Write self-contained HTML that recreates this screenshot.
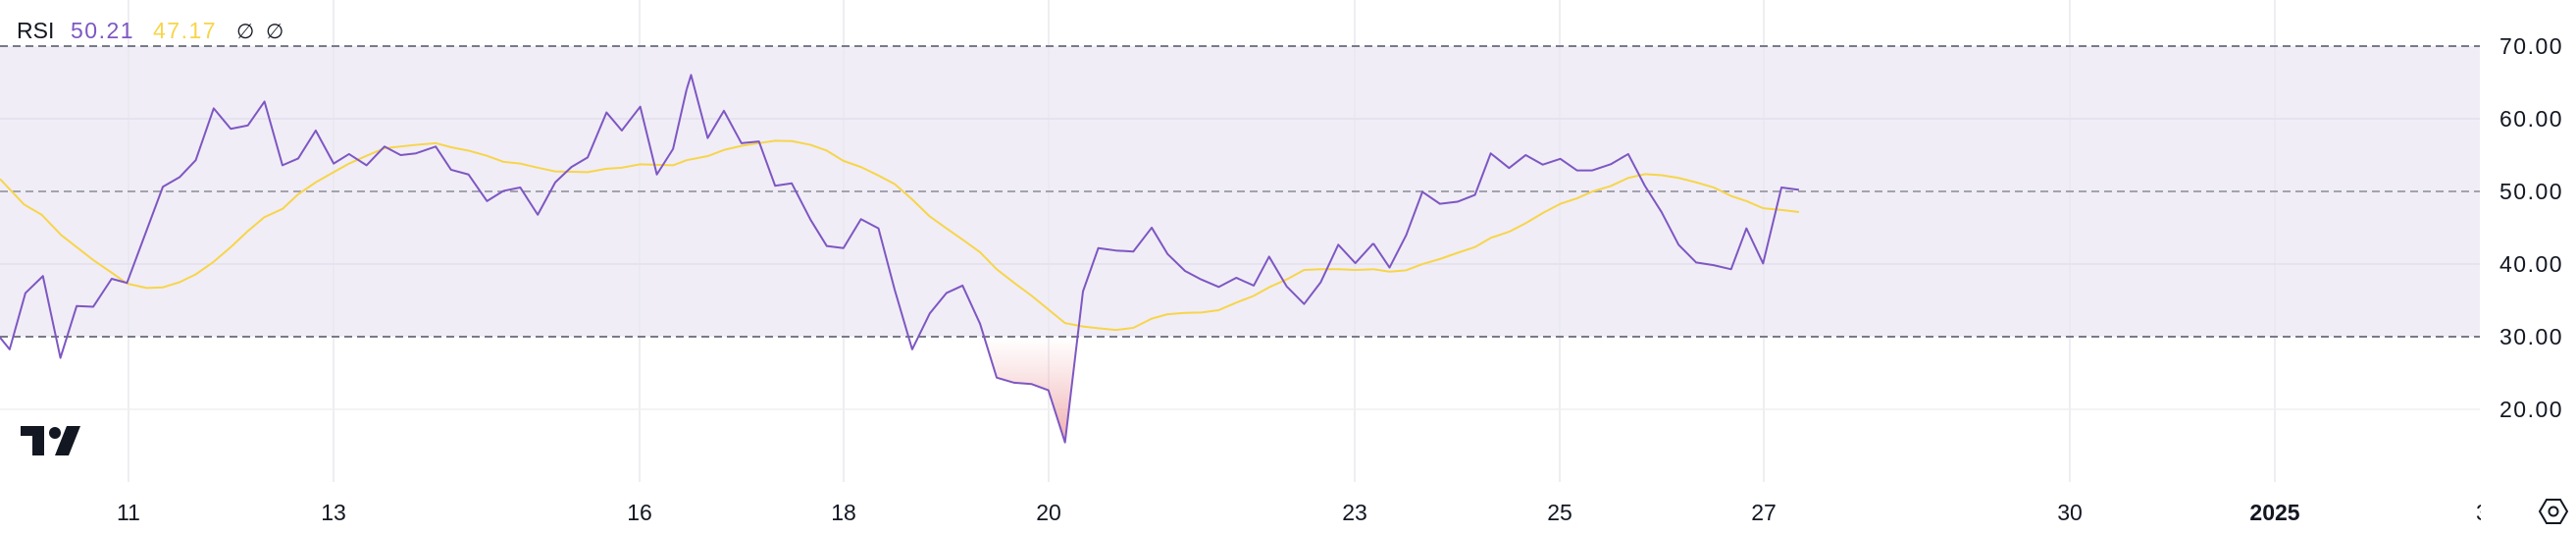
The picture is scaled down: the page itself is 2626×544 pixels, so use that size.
<!DOCTYPE html>
<html><head><meta charset="utf-8"><style>
html,body{margin:0;padding:0;background:#fff;}
svg{display:block;}
</style></head><body>
<svg width="2626" height="544" viewBox="0 0 2626 544" xmlns="http://www.w3.org/2000/svg" font-family="Liberation Sans, sans-serif">
<defs>
<linearGradient id="rg" x1="0" y1="0" x2="0" y2="1">
<stop offset="0" stop-color="#f2b6b9" stop-opacity="0"/>
<stop offset="1" stop-color="#eea3a6" stop-opacity="0.9"/>
</linearGradient>
</defs>
<rect x="0" y="47" width="2528" height="296" fill="#f0edf7"/>
<!-- vertical grid -->
<g stroke="#e9e8ee" stroke-width="1.5">
<line x1="131" y1="0" x2="131" y2="491"/>
<line x1="340" y1="0" x2="340" y2="491"/>
<line x1="652" y1="0" x2="652" y2="491"/>
<line x1="860" y1="0" x2="860" y2="491"/>
<line x1="1069" y1="0" x2="1069" y2="491"/>
<line x1="1381" y1="0" x2="1381" y2="491"/>
<line x1="1590" y1="0" x2="1590" y2="491"/>
<line x1="1798" y1="0" x2="1798" y2="491"/>
<line x1="2110" y1="0" x2="2110" y2="491"/>
<line x1="2319" y1="0" x2="2319" y2="491"/>
</g>
<g stroke-width="1.5">
<line x1="0" y1="121" x2="2528" y2="121" stroke="#e4e0ec"/>
<line x1="0" y1="269" x2="2528" y2="269" stroke="#e4e0ec"/>
<line x1="0" y1="417" x2="2528" y2="417" stroke="#efeff2"/>
</g>
<g stroke-width="2" stroke-dasharray="8,5">
<line x1="0" y1="47" x2="2528" y2="47" stroke="#787b86"/>
<line x1="0" y1="195" x2="2528" y2="195" stroke="#a3a3ad"/>
<line x1="0" y1="343" x2="2528" y2="343" stroke="#787b86"/>
</g>
<!-- zoom1 -->
<g transform="translate(0,0) scale(0.4464,0.3472)" fill="none" stroke-width="2" stroke-linejoin="round">
<polyline vector-effect="non-scaling-stroke" stroke="#f7d54a" points="0,525 55,600 95,630 140,690 215,765 255,800 290,832 335,845 372,843 410,828 447,805 488,768 527,725 566,678 604,637 645,613 681,570 721,535 762,505 797,480 837,457 878,435 950,425 995,420 1030,432 1070,442 1112,457 1150,475 1188,480 1228,492 1268,503 1342,505 1385,495 1420,492 1462,482 1537,485 1568,470"/>
<polyline vector-effect="non-scaling-stroke" stroke="#7e57c2" points="0,990 22,1025 58,860 98,810 138,1050 175,898 213,900 255,818 290,830 372,548 410,520 447,470 488,318 527,378 566,368 604,298 645,485 681,465 721,383 762,480 797,452 837,485 878,430 915,455 950,450 995,430 1030,498 1070,512 1112,590 1150,560 1188,550 1228,630 1268,535 1305,490 1342,462 1385,330 1420,383 1462,313 1500,512 1537,437 1568,262"/>
</g>
<!-- zoom3 -->
<g transform="translate(700,0) scale(0.4464,0.3472)" fill="none" stroke-width="2" stroke-linejoin="round">
<polygon points="680,988 708,1108 748,1123 788,1127 826,1145 864,1298 893,988" fill="url(#rg)" stroke="none"/>
<polyline vector-effect="non-scaling-stroke" stroke="#f7d54a" points="0,470 48,458 85,440 125,428 165,420 202,413 240,414 283,425 320,442 358,472 398,490 438,515 475,540 515,585 555,635 593,670 630,703 670,740 708,790 748,830 788,868 826,908 864,948 905,958 940,963 980,968 1020,962 1062,935 1098,922 1138,918 1175,917 1215,910 1255,888 1295,868 1330,843 1370,820 1410,792 1448,790 1488,790 1527,792 1568,790"/>
<polyline vector-effect="non-scaling-stroke" stroke="#7e57c2" points="0,262 10,220 48,405 85,325 125,420 165,415 202,545 240,538 283,645 320,722 358,728 398,643 438,670 475,850 515,1025 555,920 593,860 630,838 670,950 708,1108 748,1123 788,1127 826,1145 864,1298 905,855 940,728 980,735 1020,738 1062,668 1098,745 1138,795 1175,820 1215,842 1255,815 1295,838 1330,753 1370,840 1410,892 1448,828 1488,718 1527,772 1568,714"/>
</g>
<!-- zoom4 -->
<g transform="translate(1400,0) scale(0.4464,0.3472)" fill="none" stroke-width="2" stroke-linejoin="round">
<polyline vector-effect="non-scaling-stroke" stroke="#f7d54a" points="0,790 37,797 75,793 112,775 152,760 192,742 232,725 268,698 310,680 348,655 387,625 427,598 465,582 500,562 542,546 582,522 620,511 658,514 697,522 737,535 777,550 817,575 852,590 890,611 932,616 972,622"/>
<polyline vector-effect="non-scaling-stroke" stroke="#7e57c2" points="0,714 37,785 75,690 112,563 152,598 192,592 232,572 268,450 310,493 348,455 387,483 427,466 465,500 500,500 542,482 582,452 620,545 658,622 697,718 737,770 777,778 817,790 852,670 890,773 932,550 972,557"/>
</g>
<!-- header -->
<text x="17" y="39" font-size="23" fill="#131722">RSI</text>
<text x="72" y="39" font-size="23" fill="#7e57c2" letter-spacing="1.5">50.21</text>
<text x="156" y="39" font-size="23" fill="#f7d54a" letter-spacing="1.5">47.17</text>
<text x="241" y="39" font-size="21" fill="#131722">∅</text>
<text x="271" y="39" font-size="21" fill="#131722">∅</text>
<!-- y labels -->
<g font-size="23" fill="#131722" letter-spacing="1.5">
<text x="2548" y="55">70.00</text>
<text x="2548" y="129">60.00</text>
<text x="2548" y="203">50.00</text>
<text x="2548" y="277">40.00</text>
<text x="2548" y="351">30.00</text>
<text x="2548" y="425">20.00</text>
</g>
<!-- x labels -->
<g font-size="23" fill="#131722" text-anchor="middle">
<text x="131" y="530">11</text>
<text x="340" y="530">13</text>
<text x="652" y="530">16</text>
<text x="860" y="530">18</text>
<text x="1069" y="530">20</text>
<text x="1381" y="530">23</text>
<text x="1590" y="530">25</text>
<text x="1798" y="530">27</text>
<text x="2110" y="530">30</text>
<text x="2319" y="530" font-weight="bold">2025</text>
</g>
<rect x="2528" y="495" width="14" height="49" fill="#fff"/>
<text x="2524" y="530" font-size="23" fill="#131722">3</text>
<rect x="2529" y="495" width="14" height="49" fill="#fff"/>
<!-- settings icon -->
<g transform="translate(2603,521)" fill="none" stroke="#131722" stroke-width="2">
<polygon points="-14,0 -7,-12 7,-12 14,0 7,12 -7,12"/>
<circle cx="0" cy="0" r="4.5"/>
</g>
<!-- TV logo -->
<g fill="#131722">
<rect x="21" y="434" width="24" height="10"/>
<rect x="33" y="434" width="12" height="30"/>
<circle cx="56" cy="441" r="6"/>
<polygon points="68,434 82,434 70,464 56,464"/>
</g>
</svg>
</body></html>
